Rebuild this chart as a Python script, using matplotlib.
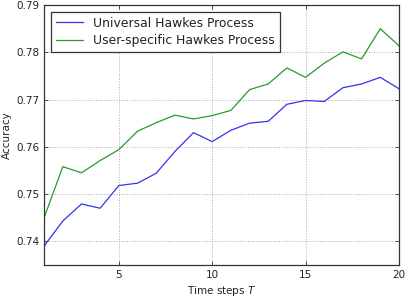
import matplotlib
matplotlib.use('Agg')
import matplotlib.pyplot as plt

# Accuracy per time step
steps = list(range(1, 21))
universal = [0.7390, 0.7443, 0.7479, 0.7470, 0.7518, 0.7523, 0.7544, 0.7590, 0.7630, 0.7611,
             0.7635, 0.7650, 0.7654, 0.7690, 0.7698, 0.7696, 0.7725, 0.7733, 0.7747, 0.7723]
user_specific = [0.7450, 0.7558, 0.7545, 0.7571, 0.7594, 0.7633, 0.7651, 0.7667, 0.7659, 0.7666,
                 0.7677, 0.7721, 0.7733, 0.7767, 0.7747, 0.7777, 0.7801, 0.7786, 0.7850, 0.7814]
labels = ['Universal Hawkes Process', 'User-specific Hawkes Process']

fig = plt.figure(figsize=(4.05, 2.98), dpi=100)
ax = fig.add_axes([0.109, 0.111, 0.876, 0.872])

ax.plot(steps, universal, color='#3333ee', lw=0.9, label=labels[0])
ax.plot(steps, user_specific, color='#2a9a2a', lw=0.9, label=labels[1])

ax.set_xlim(1, 20)
ax.set_ylim(0.735, 0.79)
ax.set_xticks([5, 10, 15, 20])
ax.set_yticks([0.74, 0.75, 0.76, 0.77, 0.78, 0.79])
ax.grid(True, linestyle=':', color='#aaaaaa', lw=0.7)
ax.tick_params(labelsize=7.5, direction='in', length=3, width=0.6, top=True, right=True,
               colors='#333333', labelcolor='#222222')
for s in ax.spines.values():
    s.set_linewidth(0.9)
    s.set_color('#333333')

ax.set_xlabel('Time steps $T$', fontsize=7.5, labelpad=3, color='#222222')
ax.set_ylabel('Accuracy', fontsize=7.5, labelpad=3, color='#222222')

leg = ax.legend(loc='upper left', fontsize=8.9, fancybox=False, framealpha=1,
                edgecolor='#333333', borderaxespad=0.55, handlelength=2.2,
                labelspacing=0.35)
leg.get_frame().set_linewidth(0.9)
for t in leg.get_texts():
    t.set_color('#222222')

fig.savefig('out.png', dpi=100)
